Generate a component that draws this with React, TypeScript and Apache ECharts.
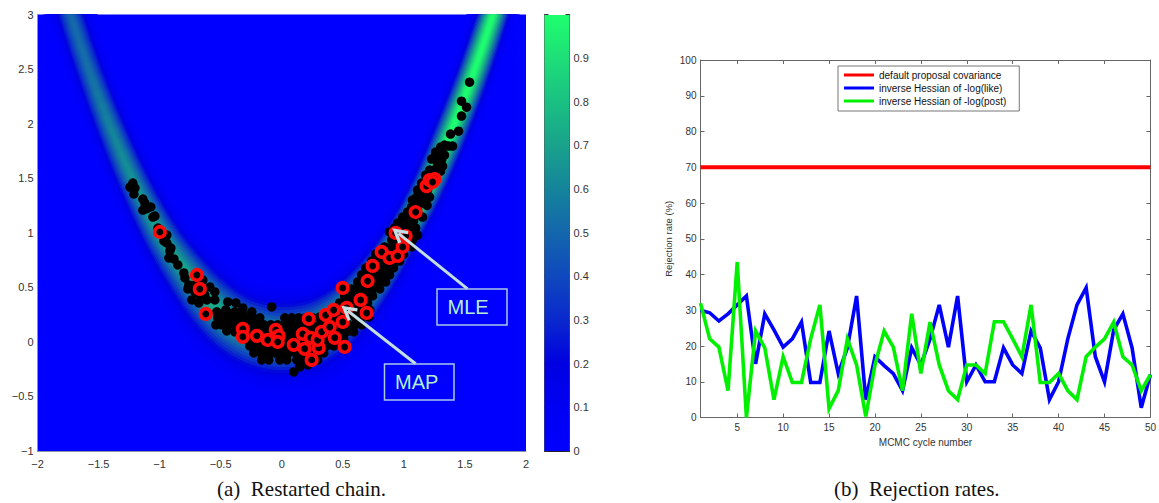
import React, { useEffect, useRef } from "react";
import * as echarts from "echarts";

const SANS = "'Liberation Sans', Arial, sans-serif";
const SERIF = "'Liberation Serif', 'Times New Roman', serif";

// ---- (a) density ridge
const ridgeX = [-1.85, -1.6, -1.4, -1.2, -1, -0.8, -0.6, -0.4, -0.2, 0, 0.2, 0.4, 0.6, 0.8, 1, 1.2, 1.4, 1.6, 1.85];
const ridgeY = [3.42, 2.56, 1.96, 1.44, 1.0, 0.66, 0.38, 0.18, 0.07, 0.03, 0.06, 0.17, 0.37, 0.65, 1.0, 1.43, 1.96, 2.56, 3.42];
const ridgeLevel = [0.5, 0.53, 0.6, 0.65, 0.7, 0.72, 0.74, 0.74, 0.72, 0.72, 0.74, 0.77, 0.82, 0.88, 0.94, 0.98, 1, 1, 1];
const ridgeSpread = [0.21, 0.21, 0.22, 0.24, 0.27, 0.32, 0.38, 0.44, 0.49, 0.51, 0.49, 0.43, 0.35, 0.28, 0.23, 0.22, 0.22, 0.21, 0.2];
const bandOffset = [1, 0.95, 0.9, 0.85, 0.8, 0.75, 0.7, 0.65, 0.6, 0.55, 0.5, 0.45, 0.4, 0.35, 0.3, 0.25, 0.2, 0.15, 0.1, 0.05];
const bandDensity = [0, 0.01, 0.02, 0.04, 0.06, 0.09, 0.13, 0.18, 0.24, 0.31, 0.39, 0.47, 0.55, 0.63, 0.71, 0.78, 0.85, 0.91, 0.96, 0.99];

const colorStops: number[][] = [
  [0, 0, 0, 255], [0.1, 0, 0, 243], [0.2, 0, 0, 225], [0.25, 5, 20, 215], [0.3, 10, 40, 205],
  [0.4, 15, 72, 190], [0.5, 20, 102, 172], [0.6, 20, 132, 155], [0.7, 25, 162, 140],
  [0.8, 25, 192, 130], [0.9, 30, 222, 120], [1, 30, 255, 110],
];
const colorbarTop = 0.999;

const chainPoints: number[][] = [
  [1.538, 2.38], [1.472, 2.206], [1.513, 2.151], [1.472, 2.069], [1.448, 1.931], [1.382, 1.904], [1.333, 1.803], [1.366, 1.794], [1.399, 1.794], [1.301, 1.785],
  [1.317, 1.73], [1.292, 1.693], [1.333, 1.712], [1.309, 1.666], [1.227, 1.675], [1.276, 1.638], [1.317, 1.611], [1.26, 1.584], [1.301, 1.565], [1.211, 1.574],
  [1.243, 1.529], [1.178, 1.529], [1.186, 1.474], [1.145, 1.455], [1.194, 1.391], [1.112, 1.391], [1.162, 1.373], [1.211, 1.327], [1.104, 1.327], [1.145, 1.318],
  [1.104, 1.272], [1.153, 1.272], [1.063, 1.236], [1.112, 1.217], [1.153, 1.144], [0.99, 1.144], [1.03, 1.126], [1.08, 1.108], [0.949, 1.089], [0.99, 1.071],
  [1.047, 1.062], [1.096, 1.044], [0.883, 1.007], [0.924, 1.044], [0.982, 1.016], [1.063, 0.998], [1.112, 0.979],
  [1.25, 1.69], [1.26, 1.74], [1.2, 1.52], [1.25, 1.48], [1.14, 1.39], [1.07, 1.3], [1.03, 1.19], [1.1, 1.16], [1.19, 1.25], [1.05, 1.04], [0.94, 0.99],
  [0.9, 0.934], [0.957, 0.934], [1.014, 0.934], [1.071, 0.934], [0.843, 0.87], [0.9, 0.87], [0.957, 0.87], [1.014, 0.87], [1.063, 0.87],
  [0.769, 0.805], [0.826, 0.805], [0.883, 0.805], [0.941, 0.805], [0.998, 0.805], [0.736, 0.741], [0.793, 0.741], [0.851, 0.741], [0.908, 0.741], [0.965, 0.741],
  [0.687, 0.677], [0.744, 0.677], [0.802, 0.677], [0.859, 0.677], [0.916, 0.677], [0.654, 0.613], [0.712, 0.613], [0.769, 0.613], [0.826, 0.613], [0.883, 0.613],
  [0.622, 0.549], [0.679, 0.549], [0.736, 0.549], [0.793, 0.549], [0.851, 0.549], [0.573, 0.485], [0.63, 0.485], [0.687, 0.485], [0.744, 0.485], [0.802, 0.485],
  [0.515, 0.421], [0.573, 0.421], [0.63, 0.421], [0.687, 0.421], [0.744, 0.421], [0.474, 0.357], [0.532, 0.357], [0.589, 0.357], [0.646, 0.357], [0.703, 0.357],
  [0.434, 0.293], [0.491, 0.293], [0.548, 0.293], [0.605, 0.293], [0.663, 0.293], [0.72, 0.293], [0.311, 0.229], [0.368, 0.229], [0.425, 0.229], [0.483, 0.229],
  [0.54, 0.229], [0.597, 0.229], [0.654, 0.229], [0.712, 0.229],
  [-0.466, 0.22], [-0.409, 0.22], [-0.352, 0.22], [-0.294, 0.22], [-0.237, 0.22], [-0.18, 0.22], [0.025, 0.22], [0.082, 0.22], [0.139, 0.22], [0.196, 0.22], [0.254, 0.22],
  [-0.491, 0.156], [-0.434, 0.156], [-0.376, 0.156], [-0.319, 0.156], [-0.262, 0.156], [-0.204, 0.156], [-0.147, 0.156], [-0.09, 0.156], [-0.033, 0.156], [0.025, 0.156], [0.082, 0.156],
  [0.139, 0.156], [0.196, 0.156], [0.254, 0.156], [0.311, 0.156], [0.368, 0.156], [0.425, 0.156], [0.483, 0.156], [0.54, 0.156], [0.597, 0.156], [0.654, 0.156],
  [-0.384, 0.092], [-0.327, 0.092], [-0.27, 0.092], [-0.213, 0.092], [-0.155, 0.092], [-0.098, 0.092], [-0.041, 0.092], [0.016, 0.092], [0.074, 0.092], [0.131, 0.092], [0.188, 0.092],
  [0.245, 0.092], [0.303, 0.092], [0.36, 0.092], [0.417, 0.092], [0.474, 0.092], [0.532, 0.092], [0.589, 0.092],
  [-0.294, 0.027], [-0.237, 0.027], [-0.18, 0.027], [-0.123, 0.027], [-0.065, 0.027], [-0.008, 0.027], [0.049, 0.027], [0.106, 0.027], [0.164, 0.027], [0.221, 0.027], [0.278, 0.027],
  [0.335, 0.027], [0.393, 0.027], [0.45, 0.027], [0.507, 0.027],
  [-0.262, -0.037], [-0.204, -0.037], [-0.147, -0.037], [-0.09, -0.037], [-0.033, -0.037], [0.025, -0.037], [0.082, -0.037], [0.139, -0.037], [0.196, -0.037], [0.254, -0.037], [0.311, -0.037], [0.368, -0.037], [0.425, -0.037],
  [-0.229, -0.101], [-0.172, -0.101], [-0.115, -0.101], [-0.057, -0.101], [0, -0.101], [0.057, -0.101], [0.115, -0.101], [0.172, -0.101], [0.229, -0.101], [0.286, -0.101], [0.344, -0.101],
  [-0.164, -0.165], [-0.106, -0.165], [-0.016, -0.165], [0.041, -0.165], [0.123, -0.165], [0.18, -0.165], [0.237, -0.165], [0.294, -0.165],
  [0.098, -0.275], [0.147, -0.229], [0.213, -0.21],
  [-1.219, 1.455], [-1.243, 1.419], [-1.202, 1.41], [-1.211, 1.355], [-1.137, 1.309], [-1.121, 1.272], [-1.072, 1.236], [-1.137, 1.208], [-1.105, 1.22], [-1.055, 1.144], [-1.039, 1.153],
  [-1.014, 1.043], [-0.941, 0.979], [-0.965, 0.925], [-0.941, 0.906], [-0.908, 0.86], [-0.916, 0.833], [-0.924, 0.769], [-0.883, 0.76], [-0.851, 0.705], [-0.802, 0.632], [-0.793, 0.586],
  [-0.761, 0.522], [-0.769, 0.485], [-0.712, 0.458], [-0.646, 0.567], [-0.589, 0.503], [-0.548, 0.458], [-0.736, 0.384], [-0.679, 0.357], [-0.613, 0.384], [-0.548, 0.384], [-0.63, 0.43],
  [-0.442, 0.366], [-0.376, 0.357], [-0.458, 0.293], [-0.532, 0.275], [-0.384, 0.275], [-0.319, 0.311], [-0.245, 0.275], [-0.54, 0.156], [-0.524, 0.22], [-0.082, 0.32], [-0.491, 0.247],
  [-0.319, 0.26], [-0.672, 0.43], [-0.71, 0.52], [-0.47, 0.2], [-0.43, 0.26], [-0.26, 0.2], [0.06, 0.19], [0.17, 0.2], [-0.13, 0.11], [-0.45, 0.1],
];

const restartPoints: number[][] = [
  [-0.695, 0.613], [-0.671, 0.485], [-0.622, 0.256], [-0.998, 1.007], [-0.319, 0.119], [-0.319, 0.046], [-0.204, 0.055], [-0.115, 0.018], [-0.049, 0.11], [-0.025, 0.055],
  [-0.033, 0], [0.098, -0.027], [0.172, 0.073], [0.237, 0.037], [0.188, -0.064], [0.303, -0.055], [0.294, 0.018], [0.327, 0.092], [0.393, 0.137], [0.434, 0.037],
  [0.221, 0.211], [0.36, 0.247], [0.425, 0.293], [0.499, 0.183], [0.532, 0.311], [0.646, 0.384], [0.695, 0.265], [0.499, 0.494], [0.703, 0.558], [0.744, 0.696],
  [0.818, 0.824], [0.883, 0.769], [0.949, 0.787], [0.99, 0.87], [0.933, 0.998], [1.014, 0.97], [1.096, 1.19], [1.186, 1.428], [1.211, 1.483], [1.252, 1.492],
  [1.235, 1.465], [0.515, -0.046], [0.245, -0.165],
];

const mleArrow = [[1.521, 0.485], [0.955, 0.995]];
const mapArrow = [[1.096, -0.2], [0.54, 0.285]];

// ---- (b) rejection rates
const cycles = Array.from({ length: 50 }, (_, i) => i + 1);
const defaultRate = 70;
const likeRates = [30, 29.3, 27, 29, 31.5, 34, 15, 29, 24.5, 19.7, 22, 26.7, 9.8, 9.8, 24.2, 12.3, 19.5, 34, 5, 17, 14.5, 12.3, 7.5, 19.5, 14.7, 22, 31.5, 19.7, 34, 10, 14.7, 10, 10, 19.5, 14.7, 12.3, 24.2, 19.5, 5, 10, 22, 31.5, 36.3, 17, 10, 24.5, 29, 19.5, 2.7, 12];
const postRates = [32, 22, 19.7, 7.5, 43.5, 0, 24.2, 19.5, 5, 17, 9.8, 9.8, 22, 31.5, 2.5, 7.5, 22, 14.7, 0.3, 14.7, 24.2, 19.7, 7.5, 29, 12.3, 26.7, 14.7, 7.5, 5, 14.7, 14.7, 12.3, 26.8, 26.8, 22, 17, 31.5, 9.8, 9.8, 12.3, 7.5, 5, 17, 19.7, 22, 26.7, 17, 14.7, 7.5, 12];
const xTicks = [5, 10, 15, 20, 25, 30, 35, 40, 45, 50];
const seriesNames = ["default proposal covariance", "inverse Hessian of -log(like)", "inverse Hessian of -log(post)"];

const colorAt = (v: number) => {
  const t = Math.max(0, Math.min(1, v));
  for (let i = 1; i < colorStops.length; i++) {
    if (t <= colorStops[i][0]) {
      const a = colorStops[i - 1], b = colorStops[i];
      const f = (t - a[0]) / (b[0] - a[0]);
      const c = [1, 2, 3].map((k) => Math.round(a[k] + (b[k] - a[k]) * f));
      return `rgb(${c[0]},${c[1]},${c[2]})`;
    }
  }
  return "rgb(30,255,110)";
};

const smoothAt = (arr: number[], i: number, t: number) => {
  const n = arr.length;
  const p0 = arr[Math.max(0, i - 1)], p1 = arr[i], p2 = arr[Math.min(n - 1, i + 1)], p3 = arr[Math.min(n - 1, i + 2)];
  return 0.5 * (2 * p1 + (p2 - p0) * t + (2 * p0 - 5 * p1 + 4 * p2 - p3) * t * t + (3 * p1 - p0 - 3 * p2 + p3) * t * t * t);
};

const SUB = 5;
const renderRidge = (params: any, api: any) => {
  const i = params.dataIndex;
  const unit = api.size([1, 0])[0];
  const at = (t: number) => {
    const a = api.coord([smoothAt(ridgeX, i, t), smoothAt(ridgeY, i, t)]);
    const b = api.coord([smoothAt(ridgeX, i, t + 0.02), smoothAt(ridgeY, i, t + 0.02)]);
    const dx = b[0] - a[0], dy = b[1] - a[1];
    const len = Math.hypot(dx, dy) || 1;
    return { p: a, nx: -dy / len, ny: dx / len, s: smoothAt(ridgeSpread, i, t) * unit, l: smoothAt(ridgeLevel, i, t) };
  };
  const children: any[] = [];
  for (let k = 0; k < SUB; k++) {
    const A = at(k / SUB), B = at((k + 1) / SUB);
    bandOffset.forEach((o, layer) => {
      const c = colorAt(((A.l + B.l) / 2) * bandDensity[layer]);
      const wa = o * A.s, wb = o * B.s;
      children.push({
        type: "polygon",
        z2: layer,
        shape: {
          points: [
            [A.p[0] + A.nx * wa, A.p[1] + A.ny * wa],
            [B.p[0] + B.nx * wb, B.p[1] + B.ny * wb],
            [B.p[0] - B.nx * wb, B.p[1] - B.ny * wb],
            [A.p[0] - A.nx * wa, A.p[1] - A.ny * wa],
          ],
        },
        style: { fill: c, stroke: c, lineWidth: 1 },
      });
    });
  }
  return { type: "group", children };
};

const axisText = { color: "#333", fontFamily: SANS };

export default function App() {
  const ref = useRef<HTMLDivElement>(null);
  useEffect(() => {
    const chart = echarts.init(ref.current!, undefined, { renderer: "svg" });
    const arrowHead = "path://M10,0 L20,17 L16.5,19 L10,8 L3.5,19 L0,17 Z";
    const arrowLine = { color: "#c4dfe4", width: 3, opacity: 1 };
    const frame = { show: true, onZero: false, lineStyle: { color: "#666", width: 1 } };
    const minusFmt = (v: number) => String(v).replace("-", "\u2212");
    chart.setOption({
      animation: false,
      grid: [
        { left: 37.5, top: 14.5, width: 488.5, height: 436.5, show: true, backgroundColor: "#0000ff", borderWidth: 0 },
        { left: 544.5, top: 14.5, width: 25, height: 436.5 },
        { left: 700.5, top: 60, width: 454, height: 357.5 },
      ],
      xAxis: [
        { gridIndex: 0, type: "value", min: -2, max: 2, interval: 0.5, splitLine: { show: false }, axisTick: { show: false },
          axisLine: { show: true, onZero: false, lineStyle: { color: "#8a94a8", width: 1 } },
          axisLabel: { ...axisText, fontSize: 11, margin: 7, formatter: minusFmt } },
        { gridIndex: 1, type: "category", data: ["c"], axisTick: { show: false }, axisLabel: { show: false }, axisLine: { show: true, lineStyle: { color: "#222" } } },
        { gridIndex: 2, type: "value", min: 1, max: 50, splitLine: { show: false }, axisLine: frame,
          axisTick: { show: true, inside: true, length: 4, lineStyle: { color: "#666" }, customValues: xTicks },
          axisLabel: { ...axisText, fontSize: 10, margin: 5, customValues: xTicks },
          name: "MCMC cycle number", nameLocation: "middle", nameGap: 20, nameTextStyle: { ...axisText, fontSize: 10 } },
        { gridIndex: 2, type: "value", position: "top", min: 1, max: 50, splitLine: { show: false }, axisLine: frame,
          axisTick: { show: true, inside: true, length: 4, lineStyle: { color: "#666" }, customValues: xTicks },
          axisLabel: { show: false } },
      ],
      yAxis: [
        { gridIndex: 0, type: "value", min: -1, max: 3, interval: 0.5, splitLine: { show: false }, axisTick: { show: false },
          axisLine: { show: true, onZero: false, lineStyle: { color: "#8a94a8", width: 1 } },
          axisLabel: { ...axisText, fontSize: 11, margin: 4, formatter: minusFmt } },
        { gridIndex: 1, type: "value", position: "right", min: 0, max: 1, interval: 0.1, splitLine: { show: false },
          axisLine: { show: true, lineStyle: { color: "#555" } },
          axisTick: { show: true, inside: true, length: 4, lineStyle: { color: "#333" } },
          axisLabel: { ...axisText, fontSize: 11, margin: 4, formatter: (v: number) => (v >= 1 ? "" : String(Math.round(v * 10) / 10)) } },
        { gridIndex: 1, type: "value", position: "left", min: 0, max: 1, interval: 0.1, splitLine: { show: false },
          axisLine: { show: true, lineStyle: { color: "#555" } },
          axisTick: { show: true, inside: true, length: 4, lineStyle: { color: "#333" } },
          axisLabel: { show: false } },
        { gridIndex: 2, type: "value", min: 0, max: 100, interval: 10, splitLine: { show: false }, axisLine: frame,
          axisTick: { show: true, inside: true, length: 4, lineStyle: { color: "#666" } },
          axisLabel: { ...axisText, fontSize: 10, margin: 4 },
          name: "Rejection rate (%)", nameLocation: "middle", nameGap: 27, nameTextStyle: { ...axisText, fontSize: 9.5 } },
        { gridIndex: 2, type: "value", position: "right", min: 0, max: 100, interval: 10, splitLine: { show: false }, axisLine: frame,
          axisTick: { show: true, inside: true, length: 4, lineStyle: { color: "#666" } },
          axisLabel: { show: false } },
      ],
      legend: {
        show: true, orient: "vertical", left: 838, top: 66, itemWidth: 30, itemHeight: 3, itemGap: 3,
        padding: [4, 13, 5, 6], borderColor: "#777", borderWidth: 1, backgroundColor: "#fff", icon: "rect",
        textStyle: { ...axisText, fontSize: 10, color: "#111" }, data: seriesNames, selectedMode: false, z: 20,
      },
      series: [
        { type: "custom", xAxisIndex: 0, yAxisIndex: 0, clip: true, z: 1, silent: true, renderItem: renderRidge,
          data: ridgeX.slice(0, -1).map((x, i) => [x, ridgeY[i]]) },
        { type: "scatter", xAxisIndex: 0, yAxisIndex: 0, z: 3, symbolSize: 9.5, itemStyle: { color: "#000", opacity: 1 }, data: chainPoints },
        { type: "scatter", xAxisIndex: 0, yAxisIndex: 0, z: 4, symbolSize: 10.5, itemStyle: { color: "#000", borderColor: "#ff0a0a", borderWidth: 3.6, opacity: 1 }, data: restartPoints },
        { type: "lines", coordinateSystem: "cartesian2d", xAxisIndex: 0, yAxisIndex: 0, z: 5, symbol: ["none", arrowHead], symbolSize: 16, lineStyle: arrowLine,
          data: [{ coords: mleArrow }, { coords: mapArrow }] },
        { type: "bar", xAxisIndex: 1, yAxisIndex: 1, barWidth: "100%", silent: true, data: [colorbarTop],
          itemStyle: { color: new echarts.graphic.LinearGradient(0, 1, 0, 0, colorStops.map((s) => ({ offset: s[0], color: `rgb(${s[1]},${s[2]},${s[3]})` }))) } },
        { name: seriesNames[0], type: "line", xAxisIndex: 2, yAxisIndex: 3, symbol: "none", lineStyle: { color: "#ff0000", width: 4 }, itemStyle: { color: "#ff0000" }, z: 4,
          data: cycles.map((c) => [c, defaultRate]) },
        { name: seriesNames[1], type: "line", xAxisIndex: 2, yAxisIndex: 3, symbol: "none", lineStyle: { color: "#0000ff", width: 3.6, join: "miter" }, itemStyle: { color: "#0000ff" }, z: 4,
          data: cycles.map((c, i) => [c, likeRates[i]]) },
        { name: seriesNames[2], type: "line", xAxisIndex: 2, yAxisIndex: 3, symbol: "none", lineStyle: { color: "#00f000", width: 3.6, join: "miter" }, itemStyle: { color: "#00f000" }, z: 5,
          data: cycles.map((c, i) => [c, postRates[i]]) },
      ],
      graphic: [
        { type: "rect", z: 10, shape: { x: 437, y: 289, width: 70, height: 36 }, style: { fill: "transparent", stroke: "#a9c8e6", lineWidth: 1.5 } },
        { type: "rect", z: 10, shape: { x: 384.5, y: 364, width: 69.5, height: 36 }, style: { fill: "transparent", stroke: "#a9c8e6", lineWidth: 1.5 } },
        { type: "text", z: 10, x: 447.5, y: 297, style: { text: "MLE", fill: "#b4f0cf", fontFamily: SANS, fontSize: 20 } },
        { type: "text", z: 10, x: 395, y: 372, style: { text: "MAP", fill: "#b4f0cf", fontFamily: SANS, fontSize: 20 } },
        { type: "text", z: 10, x: 217, y: 478, style: { text: "(a)  Restarted chain.", fill: "#111", fontFamily: SERIF, fontSize: 21 } },
        { type: "text", z: 10, x: 834, y: 478, style: { text: "(b)  Rejection rates.", fill: "#111", fontFamily: SERIF, fontSize: 21 } },
      ],
    });
    return () => chart.dispose();
  }, []);
  return <div ref={ref} style={{ position: "fixed", left: 0, top: 0, width: 1159, height: 503, background: "#fff" }} />;
}
